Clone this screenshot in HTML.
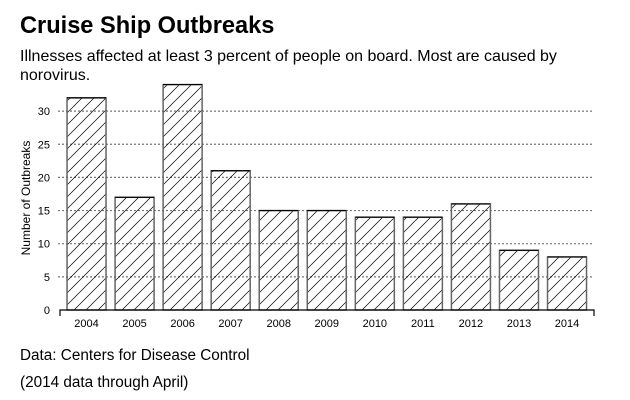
<!DOCTYPE html>
<html><head><meta charset="utf-8"><style>
body{margin:0;background:#fff;width:630px;height:400px;overflow:hidden;font-family:"Liberation Sans",Arial,sans-serif}
svg{display:block}
</style></head><body>
<svg id="c" width="630" height="400">
<defs>
<pattern id="hatch" patternUnits="userSpaceOnUse" width="12" height="12">
<path d="M-3,15 L15,-3 M-3,3 L3,-3 M9,15 L15,9" stroke="#000" stroke-width="0.7"/>
</pattern>
</defs>
<text x="20" y="33" font-size="23.6" font-weight="bold">Cruise Ship Outbreaks</text>
<text x="20" y="61" font-size="16">Illnesses affected at least 3 percent of people on board. Most are caused by</text>
<text x="20" y="80" font-size="16">norovirus.</text>
<text transform="translate(30,198) rotate(-90)" text-anchor="middle" font-size="12">Number of Outbreaks</text>
<g id="grid"></g><g id="bars"></g><g id="axis"></g>
<text x="20" y="360" font-size="15.3">Data: Centers for Disease Control</text>
<text x="20" y="387" font-size="15.3">(2014 data through April)</text>
</svg>
<script>
const years=["2004","2005","2006","2007","2008","2009","2010","2011","2012","2013","2014"];
const outbreaks=[32,17,34,21,15,15,14,14,16,9,8];
const yTicks=[0,5,10,15,20,25,30];
const NS="http://www.w3.org/2000/svg";
const x0=62.5,step=48.05,bw=39,y0=310,ppu=6.63,axL=60,axR=594;
const y=v=>y0-v*ppu, x=i=>x0+i*step+(step-bw)/2;
function mk(t,a,p){const e=document.createElementNS(NS,t);for(const k in a)e.setAttribute(k,a[k]);p.appendChild(e);return e;}
const g=document.getElementById('grid'),b=document.getElementById('bars'),ax=document.getElementById('axis');
yTicks.forEach(v=>{
 if(v>0){const l=mk('line',{x1:axL-2,x2:axR,y1:y(v),y2:y(v),stroke:'#777','stroke-width':1.2,'stroke-dasharray':'2,2'},g);
 
 }
 const t=mk('text',{x:50,y:y(v)+4,'text-anchor':'end','font-size':11},g);t.textContent=v;
 
 
});
outbreaks.forEach((v,i)=>{
 const r=mk('rect',{x:x(i),y:y(v),width:bw,height:v*ppu,fill:'url(#hatch)',stroke:'#666','stroke-width':1.5},b);
 
 
 const tp=mk('line',{x1:x(i),x2:x(i)+bw,y1:y(v),y2:y(v),stroke:'#000','stroke-width':1.2},b);
 
 
 const t=mk('text',{x:x(i)+bw/2,y:327,'text-anchor':'middle','font-size':11},ax);t.textContent=years[i];
 
 
});
const a=mk('path',{d:`M${axL},${y0+6}V${y0}H${axR}V${y0+6}`,fill:'none',stroke:'#000','stroke-width':1.2},ax);


</script>
</body></html>
